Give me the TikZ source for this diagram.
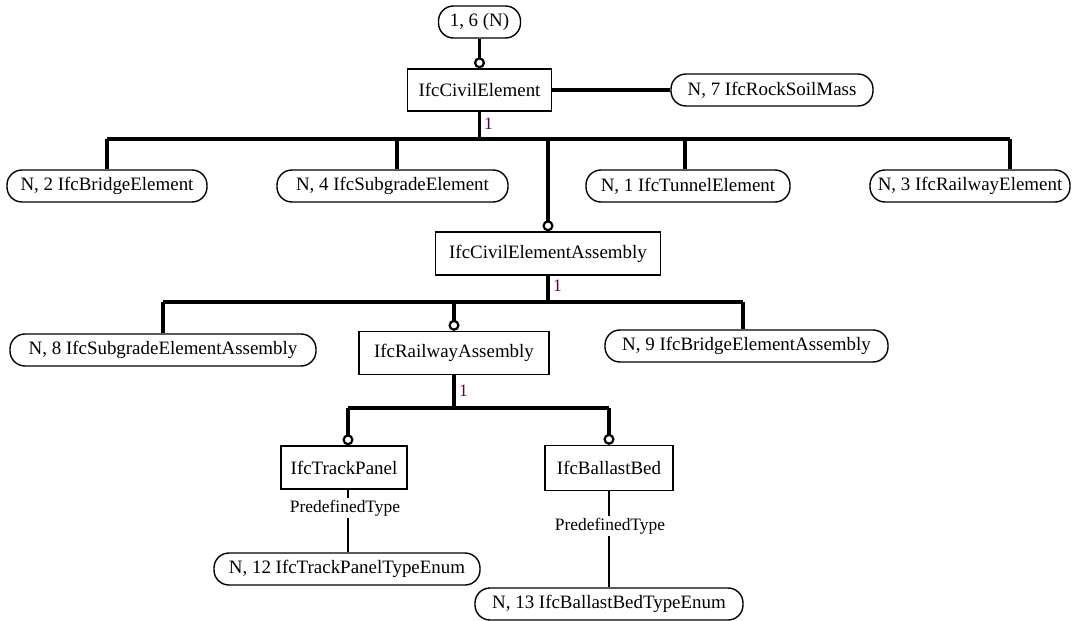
\documentclass[tikz,border=0pt]{standalone}
\usepackage{fontspec}
\setmainfont{Liberation Serif}
\usetikzlibrary{arrows.meta}
\definecolor{multc}{RGB}{96,0,64}
\begin{document}
\begin{tikzpicture}[x=1bp,y=-1bp,
  entity/.style={draw, line width=1.4bp, inner sep=0pt, minimum height=42bp, fill=white,
    font=\fontsize{19}{21}\selectfont},
  refnode/.style={draw, line width=1.4bp, inner sep=0pt, minimum height=32bp, rounded corners=15bp, fill=white,
    font=\fontsize{19}{21}\selectfont},
  link/.style={line width=3.2bp},
  sublink/.style={line width=3.2bp, -{Circle[open, length=11bp, width=11bp, line width=2.2bp]}},
  attrline/.style={line width=1.1bp},
  attr/.style={fill=white, inner sep=1.5bp, font=\fontsize{17.5}{19}\selectfont},
  card/.style={anchor=west, inner sep=0pt, text=multc, font=\fontsize{17.5}{19}\selectfont}
]
\useasboundingbox (0,0) rectangle (1076,621);

% nodes
\node[refnode, minimum width=82bp] (top) at (479.5,22) {1, 6 (N)};
\node[entity, minimum width=144bp] (civ) at (479.5,90) {IfcCivilElement};
\node[refnode, minimum width=202bp] (rock) at (772,90) {N, 7 IfcRockSoilMass};

\node[refnode, minimum width=200bp] (bridge) at (107,186) {N, 2 IfcBridgeElement};
\node[refnode, minimum width=231bp] (subg) at (392.5,186) {N, 4 IfcSubgradeElement};
\node[refnode, minimum width=204bp] (tunnel) at (688,186) {N, 1 IfcTunnelElement};
\node[refnode, minimum width=200bp] (rail) at (970,186) {N, 3 IfcRailwayElement};

\node[entity, minimum width=225bp, minimum height=43bp] (asm) at (548,253.5) {IfcCivilElementAssembly};

\node[refnode, minimum width=306bp] (sga) at (163,350) {N, 8 IfcSubgradeElementAssembly};
\node[entity, minimum width=190bp, minimum height=43bp] (ra) at (454,353) {IfcRailwayAssembly};
\node[refnode, minimum width=283bp] (bea) at (746.5,346) {N, 9 IfcBridgeElementAssembly};

\node[entity, minimum width=126bp, minimum height=43bp] (tp) at (344,467.5) {IfcTrackPanel};
\node[entity, minimum width=128bp, minimum height=45bp] (bb) at (609,468) {IfcBallastBed};

\node[refnode, minimum width=266bp] (e12) at (347,569) {N, 12 IfcTrackPanelTypeEnum};
\node[refnode, minimum width=268bp] (e13) at (609,604) {N, 13 IfcBallastBedTypeEnum};

% level 0
\draw[sublink] (top.south) -- (civ.north);
\draw[link] (civ.east) -- (rock.west);

% level 1
\coordinate (j1) at (479.5,139);
\draw[link] (civ.south) -- (j1);
\node[card] (c1) at (484,124) {1};
\draw[link] (107,139) -- (1010,139);
\draw[link] (107,139) -- (bridge.north);
\draw[link] (397,139) -- (397,0 |- subg.north);
\draw[link] (685,139) -- (685,0 |- tunnel.north);
\draw[link] (1010,139) -- (1010,0 |- rail.north);
\draw[sublink] (548,139) -- (asm.north);

% level 2
\coordinate (j2) at (548,302);
\draw[link] (asm.south) -- (j2);
\node[card] (c2) at (553,286) {1};
\draw[link] (163,302) -- (743,302);
\draw[link] (163,302) -- (sga.north);
\draw[link] (743,302) -- (743,0 |- bea.north);
\draw[sublink] (454,302) -- (ra.north);

% level 3
\coordinate (j3) at (454,408);
\draw[link] (ra.south) -- (j3);
\node[card] (c3) at (459,391) {1};
\draw[link] (348,408) -- (609,408);
\draw[sublink] (348,408) -- (348,0 |- tp.north);
\draw[sublink] (609,408) -- (bb.north);

% attributes
\draw[attrline] (348,0 |- tp.south) -- (348,0 |- e12.north);
\node[attr] (a1) at (345,508) {PredefinedType};
\draw[attrline] (bb.south) -- (e13.north);
\node[attr] (a2) at (610,526) {PredefinedType};
\end{tikzpicture}
\end{document}
